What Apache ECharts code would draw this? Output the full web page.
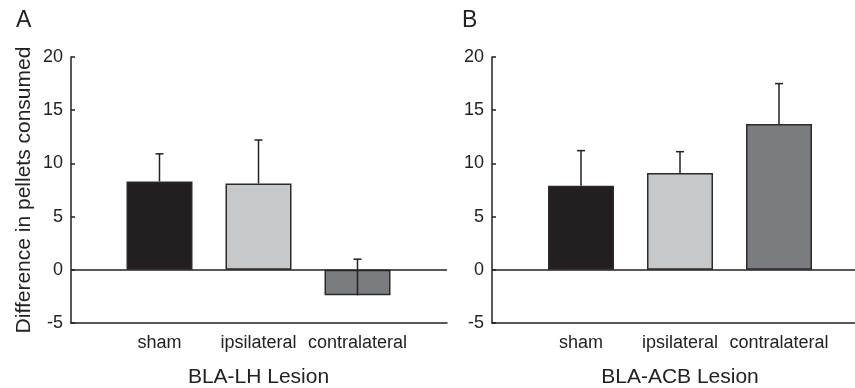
<!DOCTYPE html>
<html>
<head>
<meta charset="utf-8">
<script src="https://cdn.jsdelivr.net/npm/echarts@6/dist/echarts.min.js"></script>
<style>
  html, body { margin: 0; padding: 0; background: #fff; }
  #main { width: 855px; height: 388px; }
</style>
</head>
<body>
<div id="main"></div>
<script>
// data
var categories = ["sham", "ipsilateral", "contralateral"];
var lhMeans = [8.3, 8.1, -2.4];
var lhErrors = [2.6, 4.1, 3.4];
var acbMeans = [7.9, 9.1, 13.7];
var acbErrors = [3.3, 2.0, 3.8];
var yTicks = [-5, 0, 5, 10, 15, 20];
var panelNames = ["BLA-LH Lesion", "BLA-ACB Lesion"];

var FONT = "Liberation Sans, Arial, Helvetica, sans-serif";
var INK = "#222";
var barColors = ["#231f20", "#c7c8ca", "#7b7c7f"];

var chart = echarts.init(document.getElementById("main"));

function barData(means) {
  return means.map(function (v, i) {
    return { value: v, itemStyle: { color: barColors[i] } };
  });
}
function errData(means, errs) {
  return means.map(function (v, i) { return [i, v, v + errs[i]]; });
}
function renderErr(params, api) {
  var a = api.coord([api.value(0), api.value(1)]);
  var b = api.coord([api.value(0), api.value(2)]);
  var st = { stroke: INK, lineWidth: 1.5 };
  return {
    type: "group",
    children: [
      { type: "line", shape: { x1: a[0], y1: a[1], x2: b[0], y2: b[1] }, style: st },
      { type: "line", shape: { x1: b[0] - 4, y1: b[1], x2: b[0] + 4, y2: b[1] }, style: st }
    ]
  };
}

var yMin = yTicks[0], yMax = yTicks[yTicks.length - 1];

var option = {
  animation: false,
  textStyle: { fontFamily: FONT },
  graphic: [
    { type: "text", left: 16, top: 9, style: { text: "A", font: "23px " + FONT, fill: INK } },
    { type: "text", left: 462, top: 9, style: { text: "B", font: "23px " + FONT, fill: INK } }
  ],
  grid: [
    // outer frames (axes lines)
    { left: 71, right: 408, top: 57, bottom: 65, outerBoundsMode: "none", containLabel: false },
    { left: 492, right: -30, top: 57, bottom: 65, outerBoundsMode: "none", containLabel: false },
    // inner (bars)
    { left: 110, width: 297, top: 57, bottom: 65, outerBoundsMode: "none", containLabel: false },
    { left: 531.5, width: 297, top: 57, bottom: 65, outerBoundsMode: "none", containLabel: false }
  ],
  xAxis: [
    { gridIndex: 0, type: "value", min: 0, max: 1, axisLine: { onZero: false, lineStyle: { color: INK, width: 1.5 } }, axisTick: { show: false }, axisLabel: { show: false }, splitLine: { show: false } },
    { gridIndex: 1, type: "value", min: 0, max: 1, axisLine: { onZero: false, lineStyle: { color: INK, width: 1.5 } }, axisTick: { show: false }, axisLabel: { show: false }, splitLine: { show: false } },
    { gridIndex: 2, type: "category", data: categories, axisLine: { show: false }, axisTick: { show: false },
      axisLabel: { fontSize: 18, color: INK, margin: 11, interval: 0 },
      name: panelNames[0], nameLocation: "middle", nameGap: 44, nameTextStyle: { fontSize: 21, color: INK } },
    { gridIndex: 3, type: "category", data: categories, axisLine: { show: false }, axisTick: { show: false },
      axisLabel: { fontSize: 18, color: INK, margin: 11, interval: 0 },
      name: panelNames[1], nameLocation: "middle", nameGap: 44, nameTextStyle: { fontSize: 21, color: INK } }
  ],
  yAxis: [
    { gridIndex: 0, type: "value", min: yMin, max: yMax, interval: 5,
      axisLine: { show: true, lineStyle: { color: INK, width: 1.5 } },
      axisTick: { show: true, inside: true, length: 4, lineStyle: { color: INK, width: 1.5 } },
      axisLabel: { fontSize: 18, color: INK, margin: 8 }, splitLine: { show: false },
      name: "Difference in pellets consumed", nameLocation: "middle", nameGap: 36,
      nameTextStyle: { fontSize: 21, color: INK } },
    { gridIndex: 1, type: "value", min: yMin, max: yMax, interval: 5,
      axisLine: { show: true, lineStyle: { color: INK, width: 1.5 } },
      axisTick: { show: true, inside: true, length: 4, lineStyle: { color: INK, width: 1.5 } },
      axisLabel: { fontSize: 18, color: INK, margin: 8 }, splitLine: { show: false } },
    { gridIndex: 2, type: "value", min: yMin, max: yMax, show: false },
    { gridIndex: 3, type: "value", min: yMin, max: yMax, show: false }
  ],
  series: [
    { type: "line", xAxisIndex: 0, yAxisIndex: 0, data: [[0.5, 0]], symbol: "none", lineStyle: { opacity: 0 }, silent: true,
      markLine: { silent: true, symbol: ["none", "none"], label: { show: false }, lineStyle: { color: INK, width: 1.5, type: "solid" }, data: [{ yAxis: 0 }] } },
    { type: "line", xAxisIndex: 1, yAxisIndex: 1, data: [[0.5, 0]], symbol: "none", lineStyle: { opacity: 0 }, silent: true,
      markLine: { silent: true, symbol: ["none", "none"], label: { show: false }, lineStyle: { color: INK, width: 1.5, type: "solid" }, data: [{ yAxis: 0 }] } },
    { type: "bar", xAxisIndex: 2, yAxisIndex: 2, barWidth: 66, data: barData(lhMeans),
      itemStyle: { borderColor: "#2a2a2a", borderWidth: 1.5 }, z: 3 },
    { type: "bar", xAxisIndex: 3, yAxisIndex: 3, barWidth: 66, data: barData(acbMeans),
      itemStyle: { borderColor: "#2a2a2a", borderWidth: 1.5 }, z: 3 },
    { type: "custom", xAxisIndex: 2, yAxisIndex: 2, data: errData(lhMeans, lhErrors), renderItem: renderErr, z: 4 },
    { type: "custom", xAxisIndex: 3, yAxisIndex: 3, data: errData(acbMeans, acbErrors), renderItem: renderErr, z: 4 }
  ]
};
chart.setOption(option);
</script>
</body>
</html>
